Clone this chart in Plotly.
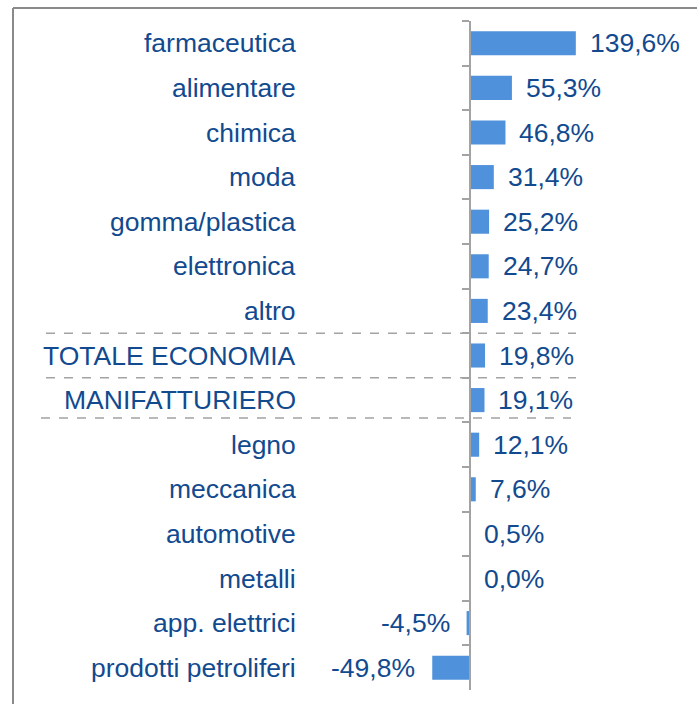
import plotly.graph_objects as go

# Variazione percentuale per settore
categories = [
    "farmaceutica", "alimentare", "chimica", "moda", "gomma/plastica",
    "elettronica", "altro", "TOTALE ECONOMIA", "MANIFATTURIERO", "legno",
    "meccanica", "automotive", "metalli", "app. elettrici", "prodotti petroliferi",
]
values = [139.6, 55.3, 46.8, 31.4, 25.2, 24.7, 23.4, 19.8, 19.1, 12.1, 7.6, 0.5, 0.0, -4.5, -49.8]
value_labels = [f"{v:.1f}%".replace(".", ",") for v in values]

W, H = 697, 704
TOP, BOTTOM = 21, 14
ZERO_PX = 470          # horizontal position of the value axis (pixels)
PX_PER_UNIT = 0.758    # pixels per percentage point
LABEL_RIGHT_PX = 298   # right edge of category labels

BAR_COLOR = "#4f91da"
TEXT_COLOR = "#124a8f"
GRID_GRAY = "#a3a3a3"
FONT = "Liberation Sans, Arial, sans-serif"
FS = 26.5

x_min = -ZERO_PX / PX_PER_UNIT
x_max = (W - ZERO_PX) / PX_PER_UNIT
plot_h = H - TOP - BOTTOM

fig = go.Figure(go.Bar(
    x=values, y=categories, orientation="h",
    marker=dict(color=BAR_COLOR, line=dict(width=0)),
    hoverinfo="skip",
))

annotations = []
for cat in categories:
    annotations.append(dict(
        x=LABEL_RIGHT_PX / W, xref="paper", y=cat, yref="y",
        text=cat, showarrow=False, xanchor="right", yanchor="middle",
        font=dict(family=FONT, size=FS, color=TEXT_COLOR),
    ))
for cat, v, lab in zip(categories, values, value_labels):
    neg = v < 0
    annotations.append(dict(
        x=v, xref="x", y=cat, yref="y", text=lab, showarrow=False,
        xanchor="right" if neg else "left", yanchor="middle",
        xshift=-15 if neg else 12,
        font=dict(family=FONT, size=FS, color=TEXT_COLOR),
    ))

shapes = []
# dashed separators around the aggregate rows
for yb, x0, x1 in [(6.5, 46, 576), (7.5, 46, 576), (8.4, 41, 571)]:
    shapes.append(dict(
        type="line", xref="paper", yref="y", x0=x0 / W, x1=x1 / W, y0=yb, y1=yb,
        line=dict(color=GRID_GRAY, width=1.5, dash="dash"), layer="above",
    ))
# outer frame (top and left edges)
frame_top = (H - BOTTOM - 8) / plot_h
frame_bottom = -BOTTOM / plot_h - 0.01
frame_left = 13 / W
shapes.append(dict(type="line", xref="paper", yref="paper", x0=frame_left, x1=1.01,
                   y0=frame_top, y1=frame_top, line=dict(color="#8a8a8a", width=2)))
shapes.append(dict(type="line", xref="paper", yref="paper", x0=frame_left, x1=frame_left,
                   y0=frame_bottom, y1=frame_top, line=dict(color="#8a8a8a", width=2)))

fig.update_layout(
    width=W, height=H,
    margin=dict(l=0, r=0, t=TOP, b=BOTTOM, pad=0),
    paper_bgcolor="white", plot_bgcolor="white",
    bargap=0.46, showlegend=False,
    xaxis=dict(range=[x_min, x_max], visible=False, fixedrange=True),
    yaxis=dict(
        type="category", categoryorder="array", categoryarray=categories,
        range=[len(categories) - 0.5, -0.5],
        anchor="free", position=ZERO_PX / W, side="left",
        showline=True, linecolor=GRID_GRAY, linewidth=1.5,
        ticks="outside", ticklen=7, tickcolor=GRID_GRAY, tickwidth=1.5,
        tickson="boundaries", showticklabels=False, showgrid=False,
        zeroline=False, fixedrange=True,
    ),
    annotations=annotations, shapes=shapes,
)

fig.write_html("out.html")
